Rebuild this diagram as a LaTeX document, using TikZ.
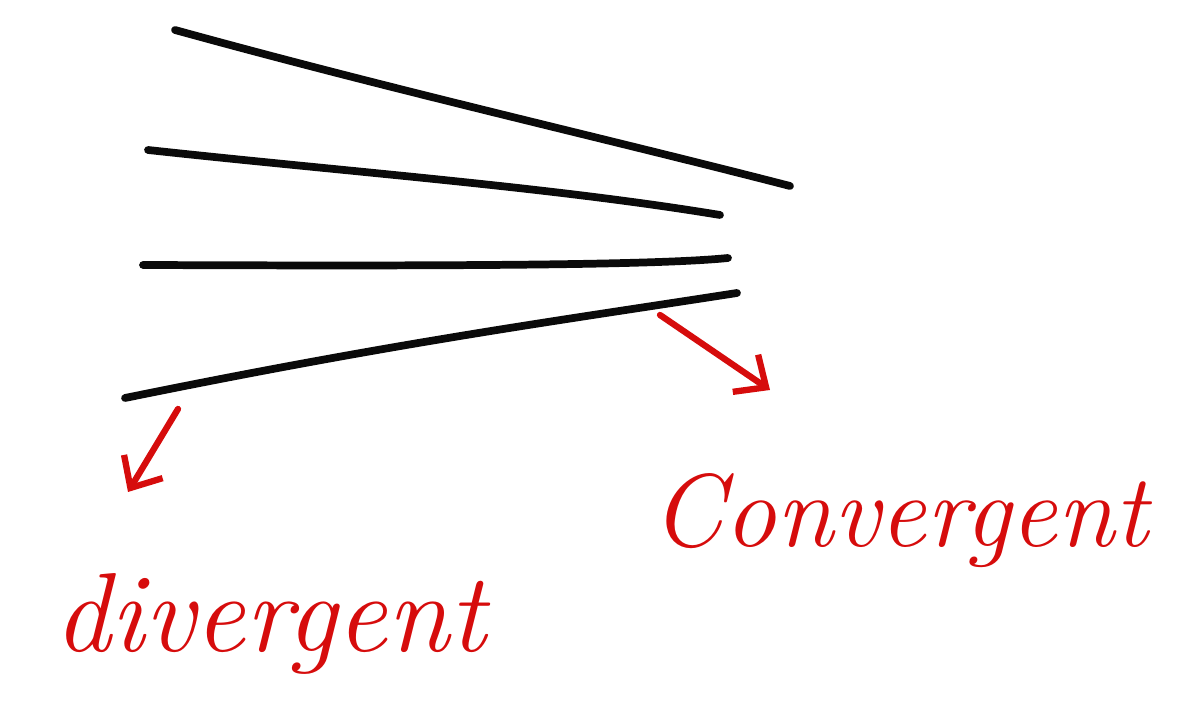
\documentclass[tikz,border=0pt]{standalone}
\usepackage{tikz}
\usetikzlibrary{arrows.meta,positioning,calc}
\definecolor{inkBlack}{RGB}{10,10,10}
\definecolor{penRed}{RGB}{214,12,12}
\tikzset{
  ray/.style={draw=inkBlack, line width=4.4pt, line cap=round},
  pointer/.style={draw=penRed, line width=3.6pt, line cap=round,
                  -{Straight Barb[length=5mm, width=9mm, line width=3.6pt]}},
  tag/.style={text=penRed, inner sep=0pt, font=\fontsize{64}{68}\selectfont\itshape}
}
\begin{document}
\begin{tikzpicture}
\useasboundingbox (0,0) rectangle (23.56,14.04);
% rays, left ends and right ends
\coordinate (a1) at (3.5,13.44);  \coordinate (b1) at (15.8,10.32);
\coordinate (a2) at (2.96,11.04); \coordinate (b2) at (14.4,9.74);
\coordinate (a3) at (2.86,8.74);  \coordinate (b3) at (14.56,8.88);
\coordinate (a4) at (2.5,6.08);   \coordinate (b4) at (14.74,8.18);
\draw[ray] (a1) .. controls (8,12.2) and (12,11.3) .. (b1);
\draw[ray] (a2) .. controls (7,10.6) and (11,10.3) .. (b2);
\draw[ray] (a3) .. controls (8,8.72) and (13,8.72) .. (b3);
\draw[ray] (a4) .. controls (8,7.2) and (11,7.6) .. (b4);
% labels
\node[tag, anchor=base] (div) at (5.4,1.0) {divergent};
\node[tag, anchor=base, font=\fontsize{59}{63}\selectfont\itshape] (conv) at (18.0,3.1) {Convergent};
\coordinate (divTail) at (3.56,5.86);
\coordinate (divHead) at (2.56,4.2);
\coordinate (convTail) at (13.2,7.74);
\coordinate (convHead) at (15.4,6.24);
\draw[pointer] (divTail) -- (divHead);
\draw[pointer] (convTail) -- (convHead);
\end{tikzpicture}
\end{document}
